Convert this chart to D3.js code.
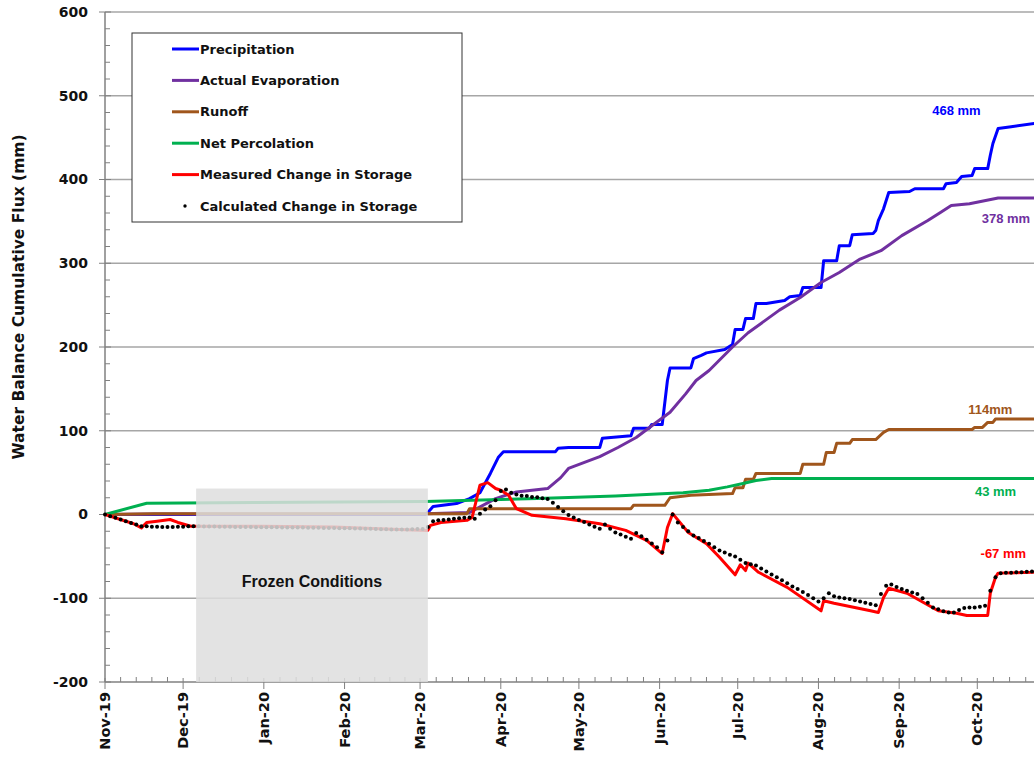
<!DOCTYPE html>
<html>
<head>
<meta charset="utf-8">
<script src="https://cdn.jsdelivr.net/npm/d3@7"></script>
<style>
  body { margin: 0; background: #fff; }
  svg { display: block; }
  .tick-label { font-family: "DejaVu Sans", sans-serif; font-weight: bold; font-size: 14px; fill: #111; }
  .legend-text { font-family: "DejaVu Sans", sans-serif; font-weight: bold; font-size: 13px; fill: #111; }
  .note { font-family: "Liberation Sans", Arial, sans-serif; font-weight: bold; font-size: 13px; }
</style>
</head>
<body>
<script>
// cumulative fluxes, [date, mm]
var precipitation = [
  ["2019-11-01",0],["2020-03-03",0],["2020-03-04",2.4],["2020-03-06",9.6],["2020-03-09",10.7],
  ["2020-03-15",13],["2020-03-20",19],["2020-03-24",26],["2020-03-28",49],["2020-03-31",68],
  ["2020-04-02",75],["2020-04-22",75],["2020-04-23",79],["2020-04-27",80],["2020-05-09",80],
  ["2020-05-10",91],["2020-05-21",94],["2020-05-22",103],["2020-05-28",103],["2020-05-29",107.5],
  ["2020-06-02",107.5],["2020-06-04",160],["2020-06-05",175],["2020-06-13",175],["2020-06-14",186],
  ["2020-06-17",190],["2020-06-19",193],["2020-06-26",197],["2020-06-29",203],["2020-06-30",221],
  ["2020-07-03",221],["2020-07-04",234],["2020-07-07",234],["2020-07-08",252],["2020-07-12",252],
  ["2020-07-19",255.5],["2020-07-21",260],["2020-07-25",261.5],["2020-07-26",271],["2020-08-02",271],
  ["2020-08-03",303],["2020-08-08",303],["2020-08-09",321],["2020-08-13",321],["2020-08-14",334],
  ["2020-08-22",335.5],["2020-08-23",339],["2020-08-24",351],["2020-08-26",365],["2020-08-28",384.5],
  ["2020-09-05",385.7],["2020-09-07",389],["2020-09-18",389],["2020-09-19",395],["2020-09-23",396.5],
  ["2020-09-25",403.6],["2020-09-29",404.8],["2020-09-30",413],["2020-10-05",413],["2020-10-06",429],
  ["2020-10-07",443],["2020-10-09",461],["2020-10-14",463],["2020-10-23",467],["2020-10-31",468]
];

var evaporation = [
  ["2019-11-01",0],["2019-11-20",0.5],["2020-03-03",1],["2020-03-20",2.4],["2020-03-30",19],
  ["2020-04-07",27],["2020-04-19",31],["2020-04-24",44],["2020-04-27",55],["2020-05-09",69],
  ["2020-05-16",80],["2020-05-23",92],["2020-05-29",106],["2020-06-05",122],["2020-06-11",144],
  ["2020-06-15",160],["2020-06-20",172],["2020-06-29",200],["2020-07-05",217],["2020-07-17",244],
  ["2020-07-25",259],["2020-08-02",277],["2020-08-09",289],["2020-08-17",305],["2020-08-25",315],
  ["2020-09-02",333],["2020-09-12",351],["2020-09-17",361],["2020-09-21",369],["2020-09-28",371],
  ["2020-10-09",378],["2020-10-31",378]
];

var runoff = [
  ["2019-11-01",0],["2019-11-20",1],["2020-03-19",1],["2020-03-20",7],["2020-05-21",7],
  ["2020-05-22",11],["2020-06-03",11],["2020-06-05",20],["2020-06-13",23],["2020-06-29",25],
  ["2020-06-30",32],["2020-07-03",32],["2020-07-04",42],["2020-07-07",42],["2020-07-08",49],
  ["2020-07-25",49],["2020-07-26",60],["2020-08-03",60],["2020-08-04",74],["2020-08-07",74],
  ["2020-08-08",85],["2020-08-13",85],["2020-08-14",89.5],["2020-08-23",89.5],["2020-08-26",98],
  ["2020-08-28",101.5],["2020-09-29",101.5],["2020-09-30",104],["2020-10-03",104],["2020-10-05",110],
  ["2020-10-07",110],["2020-10-08",114],["2020-10-31",114]
];

var percolation = [
  ["2019-11-01",0],["2019-11-17",13.5],["2020-03-03",15.5],["2020-04-15",19],["2020-05-15",22],
  ["2020-06-10",26],["2020-06-20",29],["2020-06-27",33],["2020-07-03",37],["2020-07-08",40.5],
  ["2020-07-14",43],["2020-10-31",43]
];

var measuredStorage = [
  ["2019-11-01",0],["2019-11-12",-11],["2019-11-15",-16],["2019-11-17",-9.5],["2019-11-21",-8],
  ["2019-11-26",-6],["2019-11-29",-9.5],["2019-12-04",-14],["2019-12-31",-14],["2020-01-28",-15],
  ["2020-02-22",-18],["2020-03-04",-19],["2020-03-05",-13],["2020-03-09",-9.5],["2020-03-19",-7],
  ["2020-03-21",-3.5],["2020-03-24",35],["2020-03-27",38],["2020-03-30",31],["2020-04-01",29],
  ["2020-04-04",23],["2020-04-07",7],["2020-04-13",-1],["2020-04-26",-5],["2020-05-09",-11],
  ["2020-05-19",-19],["2020-05-27",-31],["2020-06-02",-46.6],["2020-06-04",-15.5],["2020-06-06",1],
  ["2020-06-12",-21.5],["2020-06-19",-35],["2020-06-24",-51],["2020-06-30",-72],["2020-07-02",-60],
  ["2020-07-04",-67],["2020-07-05",-58],["2020-07-09",-69],["2020-07-20",-87],["2020-08-02",-115],
  ["2020-08-03",-103],["2020-08-07",-106],["2020-08-21",-115],["2020-08-24",-117],["2020-08-26",-99],
  ["2020-08-28",-88],["2020-09-04",-94],["2020-09-16",-115],["2020-09-23",-118],["2020-09-27",-120.5],
  ["2020-10-05",-120.5],["2020-10-06",-94],["2020-10-08",-75],["2020-10-09",-70],["2020-10-22",-69],
  ["2020-10-31",-67]
];

// calculated change in storage, one reading every 2 days from 2019-11-01
var calcStart = "2019-11-01";
var calcStepDays = 2;
var calcStorage = [
  0,-2,-4,-6,-8,-10,-12,-14,-14,-14.5,-14.5,-15,-15,-15,-14.5,-14.5,-14,-14,-14,
  -14.2,-14.3,-14.4,-14.5,-14.6,-14.7,-14.8,-14.9,-15,-15,-15.1,-15.2,-15.2,-15.3,-15.3,-15.4,-15.4,-15.5,-15.5,
  -15.6,-15.7,-15.8,-15.9,-16,-16.1,-16.2,-16.3,-16.4,-16.5,-16.6,-16.8,-17,-17.1,-17.3,-17.5,-17.6,-17.8,-18,-18,-17.8,-17.6,-17.4,-17.2,
  -15,-8,-7,-6.5,-6,-5,-4.5,-4,-3.5,-5,1,6,10,17,28,30,26,24,22.5,22,21,20.5,19.5,18.5,14,9,4,-0.5,-3.5,-6.5,-9,-12,-14.5,-17,
  -12,-17,-21.5,-24,-26.5,-29,-22,-26,-30,-34.5,-39,-45,-31,0,-9.5,-15,-20,-25,-28,-31.5,-35,-39,-43,-45.5,-48,-50,
  -54,-58,-59.5,-61,-64.5,-68,-71.5,-75,-78.5,-82,-86,-89,-92.5,-96,-100,-104,-100,-94,-97.5,-99,-100,-101,-102.5,
  -104,-105.5,-107,-108.5,-95,-85,-83.5,-86.5,-89,-91,-93,-95,-100,-105.5,-111,-113,-115.5,-117,-117,-114,-111.5,
  -111,-111,-110,-109,-91,-75,-70,-69.5,-69.5,-69,-69,-68.5,-68,-68,-67.5,-67.5,-67
];

var seriesNames = ["Precipitation","Actual Evaporation","Runoff","Net Percolation","Measured Change in Storage","Calculated Change in Storage"];
var seriesColors = ["#0000ff","#7030a0","#a0561c","#00b050","#ff0000","#000000"];

var yTicks = [-200,-100,0,100,200,300,400,500,600];
var monthLabels = ["Nov-19","Dec-19","Jan-20","Feb-20","Mar-20","Apr-20","May-20","Jun-20","Jul-20","Aug-20","Sep-20","Oct-20"];
var frozen = {start: "2019-12-06", end: "2020-03-04", top: 31, label: "Frozen Conditions"};

// end labels: text, anchor date, anchor value, colour index
var endLabels = [
  ["468 mm", "2020-09-23", 483, 0],
  ["378 mm", "2020-10-12", 354, 1],
  ["114mm",  "2020-10-06", 126, 2],
  ["43 mm",  "2020-10-08", 28, 3],
  ["-67 mm", "2020-10-11", -47, 4]
];

var W = 1034, H = 761;
var parse = d3.timeParse("%Y-%m-%d");

var svg = d3.select("body").append("svg").attr("width", W).attr("height", H);

var x = d3.scaleTime()
    .domain([parse("2019-11-01"), parse("2020-11-01")])
    .range([105, 1058]);
var y = d3.scaleLinear().domain([-200, 600]).range([682, 12]);

// grid
svg.append("g").selectAll("line")
  .data(yTicks.filter(function(d) { return d !== -200; }))
  .enter().append("line")
    .attr("x1", 105).attr("x2", W)
    .attr("y1", function(d) { return y(d); }).attr("y2", function(d) { return y(d); })
    .attr("stroke", "#a6a6a6").attr("stroke-width", 1.5);

// y axis
var yAxis = svg.append("g");
yAxis.append("line").attr("x1", 105).attr("x2", 105).attr("y1", y(600)).attr("y2", y(-200))
  .attr("stroke", "#808080").attr("stroke-width", 1.5);
d3.range(-200, 601, 20).forEach(function(v) {
  var major = v % 100 === 0;
  yAxis.append("line")
    .attr("x1", major ? 99 : 105).attr("x2", major ? 111 : 110)
    .attr("y1", y(v)).attr("y2", y(v))
    .attr("stroke", "#808080").attr("stroke-width", 1);
});
yAxis.selectAll("text").data(yTicks).enter().append("text")
  .attr("class", "tick-label")
  .attr("x", 88).attr("y", function(d) { return y(d); })
  .attr("dy", "0.35em").attr("text-anchor", "end")
  .text(function(d) { return d; });

svg.append("text")
  .attr("class", "tick-label")
  .style("font-size", "15.5px")
  .attr("transform", "translate(24," + 297 + ") rotate(-90)")
  .attr("text-anchor", "middle")
  .text("Water Balance Cumulative Flux (mm)");

// x axis
var months = d3.timeMonth.range(parse("2019-11-01"), parse("2020-11-02"));
var xAxis = svg.append("g");
xAxis.append("line").attr("x1", 105).attr("x2", W).attr("y1", 682).attr("y2", 682)
  .attr("stroke", "#808080").attr("stroke-width", 1.5);
months.forEach(function(m, i) {
  xAxis.append("line").attr("x1", x(m)).attr("x2", x(m)).attr("y1", 678).attr("y2", 689)
    .attr("stroke", "#808080");
  if (i < months.length - 1) {
    var next = months[i + 1];
    for (var k = 1; k < 5; k++) {
      var t = new Date(+m + (next - m) * k / 5);
      xAxis.append("line").attr("x1", x(t)).attr("x2", x(t)).attr("y1", 677).attr("y2", 682)
        .attr("stroke", "#808080");
    }
  }
});
xAxis.selectAll("text").data(monthLabels).enter().append("text")
  .attr("class", "tick-label")
  .style("font-size", "14.5px")
  .attr("transform", function(d, i) { return "translate(" + (x(months[i]) + 5) + ",692) rotate(-90)"; })
  .attr("text-anchor", "end")
  .text(function(d) { return d; });

// lines
var line = d3.line()
  .x(function(d) { return x(parse(d[0])); })
  .y(function(d) { return y(d[1]); });

var lineSeries = [precipitation, evaporation, runoff, percolation, measuredStorage];
lineSeries.forEach(function(s, i) {
  svg.append("path").datum(s)
    .attr("fill", "none")
    .attr("stroke", seriesColors[i])
    .attr("stroke-width", 3)
    .attr("stroke-linejoin", "round")
    .attr("d", line);
});

var startDay = parse(calcStart);
svg.append("g").selectAll("circle").data(calcStorage).enter().append("circle")
  .attr("cx", function(d, i) { return x(d3.timeDay.offset(startDay, i * calcStepDays)); })
  .attr("cy", function(d) { return y(d); })
  .attr("r", 2)
  .attr("fill", "#000");

// frozen period
var fx0 = x(parse(frozen.start)), fx1 = x(parse(frozen.end));
svg.append("rect")
  .attr("x", fx0).attr("y", y(frozen.top))
  .attr("width", fx1 - fx0).attr("height", y(-200) - y(frozen.top))
  .attr("fill", "#dedede").attr("fill-opacity", 0.85);
svg.append("text")
  .attr("class", "note")
  .style("font-size", "16px")
  .attr("x", (fx0 + fx1) / 2).attr("y", y(-80))
  .attr("dy", "0.35em").attr("text-anchor", "middle")
  .attr("fill", "#111")
  .text(frozen.label);

// legend
var lg = svg.append("g").attr("transform", "translate(132,33)");
lg.append("rect").attr("width", 330).attr("height", 189)
  .attr("fill", "#fff").attr("stroke", "#333").attr("stroke-width", 1);
seriesNames.forEach(function(name, i) {
  var yy = 16 + i * 31.4;
  if (i < 5) {
    lg.append("line").attr("x1", 40).attr("x2", 67).attr("y1", yy).attr("y2", yy)
      .attr("stroke", seriesColors[i]).attr("stroke-width", 3);
  } else {
    lg.append("circle").attr("cx", 53).attr("cy", yy).attr("r", 1.7).attr("fill", "#000");
  }
  lg.append("text").attr("class", "legend-text")
    .attr("x", 68).attr("y", yy).attr("dy", "0.35em")
    .text(name);
});

// end-of-period labels
svg.append("g").selectAll("text").data(endLabels).enter().append("text")
  .attr("class", "note")
  .attr("x", function(d) { return x(parse(d[1])); })
  .attr("y", function(d) { return y(d[2]); })
  .attr("dy", "0.35em")
  .attr("text-anchor", "middle")
  .attr("fill", function(d) { return seriesColors[d[3]]; })
  .text(function(d) { return d[0]; });
</script>
</body>
</html>
